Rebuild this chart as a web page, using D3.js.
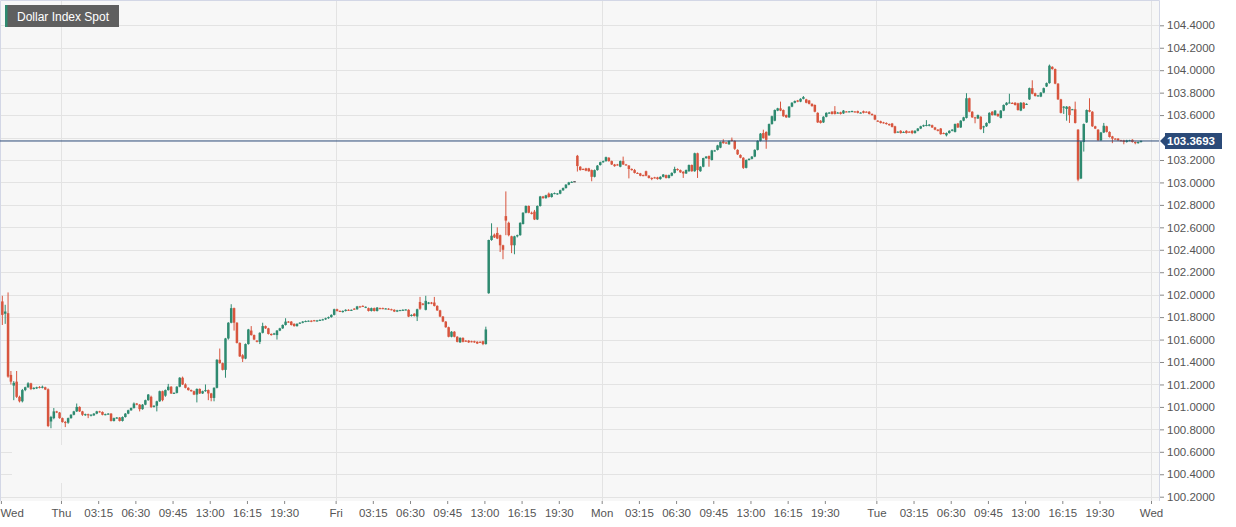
<!DOCTYPE html>
<html><head><meta charset="utf-8">
<script src="https://cdn.jsdelivr.net/npm/d3@7"></script>
<style>
body{margin:0;background:#fff;}
svg{display:block;font-family:"Liberation Sans",Arial,Helvetica,sans-serif;}
</style>
</head><body>
<svg id="chart" width="1236" height="527"></svg>
<script>
// [open, high, low, close] per 15-minute candle
const wedCandles = [
[101.94,101.99,101.73,101.82],[101.83,101.91,101.74,101.85],[101.835,102.02,101.26,101.27],[101.285,101.32,101.20,101.225],
[101.19,101.23,101.06,101.215],[101.225,101.32,101.08,101.09],[101.09,101.10,101.04,101.05],[101.05,101.16,101.04,101.15],
[101.15,101.18,101.14,101.175],[101.175,101.22,101.17,101.21],[101.21,101.215,101.15,101.16],[101.16,101.175,101.155,101.17],
[101.165,101.18,101.16,101.175],[101.178,101.185,101.165,101.17],[101.17,101.19,101.165,101.18],[101.175,101.18,101.15,101.155],
[101.157,101.165,100.82,100.83],[100.87,100.92,100.81,100.91],[100.90,100.99,100.89,100.96],[100.96,100.965,100.945,100.95],
[100.95,100.955,100.895,100.90]
];
const thuCandles = [
[100.90,100.905,100.86,100.865],[100.865,100.875,100.82,100.86],[100.86,100.905,100.85,100.90],[100.90,100.935,100.895,100.93],
[100.93,100.965,100.925,100.96],[100.96,101.03,100.955,101.00],[101.00,101.005,100.955,100.96],[100.96,100.965,100.92,100.93],
[100.93,100.94,100.92,100.935],[100.935,100.94,100.90,100.925],[100.925,100.935,100.915,100.93],[100.925,100.945,100.92,100.94],
[100.94,100.965,100.935,100.96],[100.96,100.965,100.95,100.955],[100.955,100.96,100.925,100.93],[100.93,100.94,100.925,100.935],
[100.935,100.945,100.93,100.94],[100.94,100.945,100.87,100.875],[100.875,100.905,100.87,100.90],[100.90,100.91,100.895,100.905],
[100.905,100.91,100.87,100.875],[100.875,100.915,100.87,100.91],[100.91,100.945,100.905,100.94],[100.94,100.975,100.935,100.97],
[100.97,100.995,100.965,100.99],[100.99,101.04,100.985,101.03],[101.03,101.035,101.015,101.02],[101.02,101.025,100.96,100.98],
[100.98,101.025,100.975,101.02],[101.02,101.065,101.015,101.06],[101.06,101.115,101.055,101.11],[101.09,101.10,100.99,101.00],
[101.00,101.015,100.995,101.01],[101.01,101.055,100.96,101.05],[101.05,101.145,101.045,101.14],[101.14,101.145,101.05,101.06],
[101.10,101.155,101.09,101.15],[101.15,101.205,101.145,101.18],[101.18,101.185,101.115,101.12],[101.12,101.13,101.115,101.125],
[101.125,101.185,101.12,101.18],[101.18,101.265,101.175,101.26],[101.26,101.27,101.195,101.20],[101.20,101.21,101.165,101.17],
[101.17,101.175,101.145,101.15],[101.15,101.155,101.135,101.14],[101.14,101.145,101.105,101.11],[101.11,101.165,101.04,101.16],
[101.16,101.165,101.115,101.12],[101.12,101.145,101.115,101.14],[101.14,101.20,101.135,101.15],[101.15,101.155,101.06,101.12],
[101.12,101.125,101.05,101.08],[101.08,101.175,101.05,101.17],[101.17,101.425,101.165,101.42],[101.42,101.52,101.385,101.39],
[101.39,101.395,101.325,101.33],[101.33,101.615,101.26,101.61],[101.61,101.755,101.60,101.75],[101.75,101.915,101.745,101.88],
[101.88,101.885,101.68,101.75],[101.75,101.755,101.565,101.57],[101.57,101.575,101.445,101.45],[101.46,101.47,101.40,101.43],
[101.43,101.565,101.425,101.56],[101.56,101.695,101.555,101.69],[101.68,101.72,101.635,101.64],[101.64,101.645,101.595,101.60],
[101.59,101.595,101.575,101.58],[101.58,101.665,101.56,101.66],[101.66,101.75,101.655,101.72],[101.72,101.725,101.695,101.70],
[101.70,101.705,101.645,101.65],[101.65,101.655,101.635,101.64],[101.645,101.66,101.64,101.655],[101.64,101.685,101.60,101.68],
[101.68,101.705,101.675,101.70],[101.70,101.735,101.695,101.73],[101.73,101.79,101.725,101.76],[101.76,101.765,101.75,101.755],
[101.76,101.765,101.725,101.73],[101.74,101.745,101.715,101.72],[101.72,101.745,101.715,101.74],[101.745,101.755,101.74,101.75],
[101.75,101.765,101.745,101.76],[101.76,101.77,101.755,101.765],[101.765,101.77,101.76,101.768],[101.768,101.772,101.755,101.76],
[101.772,101.775,101.762,101.765],[101.765,101.775,101.76,101.77],[101.77,101.78,101.765,101.775],[101.775,101.785,101.77,101.78],
[101.78,101.795,101.775,101.79],[101.79,101.805,101.785,101.80],[101.80,101.825,101.795,101.82],[101.82,101.875,101.815,101.87]
];
const friCandles = [
[101.87,101.875,101.85,101.855],[101.855,101.86,101.845,101.85],[101.845,101.86,101.84,101.855],[101.855,101.87,101.85,101.865],
[101.865,101.87,101.855,101.86],[101.86,101.868,101.855,101.865],[101.875,101.88,101.865,101.87],[101.87,101.90,101.865,101.895],
[101.895,101.90,101.885,101.89],[101.90,101.905,101.89,101.895],[101.89,101.895,101.88,101.892],[101.88,101.885,101.85,101.855],
[101.855,101.885,101.85,101.88],[101.88,101.885,101.85,101.855],[101.855,101.89,101.85,101.885],[101.88,101.885,101.87,101.875],
[101.88,101.885,101.87,101.875],[101.875,101.88,101.87,101.877],[101.875,101.88,101.865,101.87],[101.87,101.875,101.86,101.865],
[101.865,101.87,101.845,101.85],[101.85,101.865,101.845,101.86],[101.86,101.865,101.855,101.862],[101.862,101.87,101.855,101.865],
[101.865,101.87,101.86,101.868],[101.865,101.87,101.80,101.805],[101.81,101.825,101.805,101.82],[101.83,101.835,101.805,101.81],
[101.805,101.875,101.765,101.87],[101.935,101.98,101.865,101.875],[101.92,101.925,101.905,101.91],[101.865,101.99,101.86,101.945],
[101.92,101.935,101.915,101.93],[101.93,101.935,101.915,101.92],[101.93,101.98,101.895,101.90],[101.90,101.905,101.855,101.86],
[101.86,101.865,101.80,101.805],[101.805,101.81,101.755,101.76],[101.76,101.765,101.705,101.71],[101.71,101.715,101.62,101.625],
[101.625,101.675,101.62,101.67],[101.67,101.675,101.62,101.625],[101.625,101.63,101.575,101.58],[101.575,101.62,101.57,101.615],
[101.615,101.62,101.575,101.58],[101.59,101.595,101.58,101.585],[101.59,101.595,101.57,101.575],[101.585,101.59,101.575,101.58],
[101.585,101.59,101.57,101.575],[101.58,101.585,101.56,101.565],[101.58,101.585,101.57,101.575],[101.585,101.59,101.55,101.56],
[101.56,101.715,101.555,101.69],[102.013,102.49,102.008,102.487],[102.487,102.636,102.48,102.525],[102.535,102.545,102.505,102.51],
[102.55,102.60,102.495,102.50],[102.53,102.535,102.38,102.44],[102.44,102.445,102.316,102.40],[102.70,102.92,102.53,102.66],
[102.64,102.65,102.52,102.53],[102.52,102.525,102.37,102.44],[102.44,102.525,102.36,102.52],[102.52,102.535,102.51,102.53],
[102.53,102.645,102.525,102.64],[102.63,102.735,102.625,102.73],[102.73,102.795,102.725,102.79],[102.79,102.795,102.725,102.73],
[102.73,102.74,102.715,102.72],[102.74,102.755,102.665,102.67],[102.67,102.795,102.665,102.79],[102.79,102.88,102.785,102.875],
[102.875,102.88,102.855,102.86],[102.86,102.89,102.855,102.885],[102.90,102.91,102.865,102.87],[102.87,102.905,102.865,102.90],
[102.90,102.91,102.895,102.905],[102.898,102.905,102.89,102.902],[102.90,102.935,102.895,102.93],[102.93,102.955,102.925,102.95],
[102.95,102.985,102.945,102.98],[102.98,103.005,102.975,103.00],[103.00,103.01,102.995,103.005],[103.01,103.01,103.01,103.01],
[103.237,103.245,103.097,103.146],[103.14,103.145,103.105,103.11],[103.12,103.125,103.11,103.115],[103.125,103.13,103.10,103.105],
[103.125,103.13,103.095,103.10],[103.11,103.115,103.01,103.05],[103.05,103.115,103.045,103.11],[103.11,103.155,103.105,103.15],
[103.155,103.185,103.15,103.18]
];
const monCandles = [
[103.18,103.195,103.175,103.19],[103.19,103.23,103.185,103.225],[103.22,103.225,103.185,103.19],[103.19,103.195,103.155,103.16],
[103.16,103.165,103.14,103.145],[103.16,103.165,103.15,103.155],[103.14,103.195,103.135,103.19],[103.19,103.23,103.155,103.16],
[103.16,103.165,103.15,103.155],[103.15,103.155,103.036,103.12],[103.12,103.125,103.105,103.11],[103.11,103.12,103.08,103.085],
[103.085,103.09,103.075,103.08],[103.08,103.085,103.055,103.06],[103.065,103.07,103.055,103.06],[103.10,103.105,103.055,103.06],
[103.06,103.065,103.035,103.04],[103.04,103.045,103.02,103.038],[103.045,103.05,103.035,103.04],[103.045,103.05,103.025,103.03],
[103.03,103.055,103.025,103.05],[103.05,103.075,103.045,103.07],[103.065,103.07,103.035,103.04],[103.04,103.07,103.035,103.065],
[103.06,103.09,103.055,103.085],[103.085,103.14,103.08,103.12],[103.12,103.125,103.105,103.11],[103.11,103.115,103.085,103.09],
[103.095,103.10,103.04,103.08],[103.08,103.115,103.075,103.11],[103.10,103.16,103.095,103.155],[103.155,103.16,103.095,103.10],
[103.10,103.265,103.095,103.26],[103.26,103.265,103.04,103.11],[103.10,103.145,103.095,103.14],[103.14,103.22,103.135,103.217],
[103.217,103.235,103.21,103.23],[103.235,103.24,103.14,103.21],[103.20,103.29,103.195,103.285],[103.28,103.29,103.275,103.285],
[103.29,103.335,103.285,103.33],[103.31,103.365,103.305,103.36],[103.365,103.385,103.345,103.35],[103.355,103.36,103.345,103.35],
[103.34,103.375,103.335,103.37],[103.38,103.40,103.365,103.37],[103.37,103.375,103.29,103.30],[103.29,103.295,103.245,103.25],
[103.245,103.25,103.215,103.22],[103.22,103.225,103.12,103.13],[103.13,103.205,103.125,103.20],[103.20,103.215,103.195,103.21],
[103.21,103.235,103.205,103.23],[103.23,103.295,103.225,103.29],[103.29,103.375,103.285,103.37],[103.37,103.44,103.365,103.435],
[103.44,103.47,103.39,103.395],[103.45,103.455,103.30,103.38],[103.42,103.525,103.415,103.52],[103.52,103.595,103.515,103.59],
[103.55,103.65,103.545,103.645],[103.64,103.665,103.635,103.66],[103.66,103.72,103.635,103.64],[103.645,103.65,103.585,103.59],
[103.60,103.605,103.575,103.58],[103.58,103.68,103.575,103.675],[103.675,103.715,103.67,103.71],[103.71,103.73,103.705,103.725],
[103.73,103.735,103.715,103.72],[103.72,103.75,103.715,103.745],[103.745,103.77,103.74,103.76],[103.74,103.745,103.705,103.71],
[103.73,103.735,103.695,103.70],[103.70,103.705,103.675,103.68],[103.69,103.695,103.625,103.63],[103.62,103.625,103.53,103.535],
[103.55,103.555,103.525,103.53],[103.535,103.59,103.53,103.585],[103.585,103.625,103.58,103.62],[103.62,103.628,103.612,103.622],
[103.63,103.635,103.605,103.61],[103.635,103.68,103.605,103.61],[103.62,103.628,103.615,103.622],[103.625,103.63,103.605,103.61],
[103.615,103.645,103.61,103.64],[103.632,103.636,103.626,103.63],[103.63,103.636,103.625,103.633],[103.628,103.64,103.625,103.636],
[103.632,103.636,103.624,103.63],[103.635,103.64,103.615,103.62],[103.62,103.626,103.615,103.622],[103.635,103.64,103.615,103.62],
[103.63,103.634,103.624,103.628],[103.63,103.635,103.605,103.61],[103.61,103.615,103.595,103.60],[103.60,103.605,103.555,103.56]
];
const tueCandles = [
[103.55,103.555,103.54,103.545],[103.545,103.55,103.525,103.53],[103.535,103.54,103.525,103.532],[103.53,103.535,103.515,103.52],
[103.52,103.525,103.505,103.51],[103.525,103.53,103.49,103.495],[103.50,103.505,103.435,103.44],[103.45,103.455,103.445,103.452],
[103.46,103.465,103.435,103.44],[103.448,103.455,103.442,103.45],[103.46,103.465,103.435,103.44],[103.452,103.456,103.445,103.448],
[103.46,103.465,103.43,103.44],[103.44,103.465,103.435,103.46],[103.46,103.485,103.455,103.48],[103.48,103.505,103.475,103.50],
[103.50,103.515,103.495,103.51],[103.508,103.555,103.50,103.512],[103.505,103.52,103.50,103.515],[103.51,103.515,103.485,103.49],
[103.49,103.495,103.465,103.47],[103.47,103.475,103.455,103.46],[103.48,103.485,103.425,103.43],[103.44,103.445,103.43,103.438],
[103.42,103.445,103.41,103.44],[103.44,103.465,103.435,103.46],[103.46,103.475,103.455,103.47],[103.45,103.525,103.445,103.52],
[103.525,103.53,103.485,103.49],[103.49,103.555,103.485,103.55],[103.55,103.585,103.545,103.58],[103.575,103.795,103.57,103.75],
[103.75,103.755,103.625,103.63],[103.63,103.635,103.575,103.58],[103.58,103.585,103.527,103.575],[103.57,103.605,103.565,103.60],
[103.585,103.59,103.47,103.475],[103.49,103.505,103.44,103.50],[103.50,103.535,103.495,103.53],[103.53,103.625,103.525,103.62],
[103.63,103.635,103.595,103.60],[103.60,103.645,103.595,103.64],[103.61,103.615,103.585,103.59],[103.575,103.645,103.57,103.64],
[103.64,103.695,103.635,103.69],[103.69,103.715,103.685,103.71],[103.71,103.79,103.705,103.712],[103.708,103.715,103.70,103.704],
[103.71,103.715,103.685,103.69],[103.705,103.71,103.64,103.645],[103.64,103.715,103.635,103.71],[103.71,103.715,103.655,103.66],
[103.695,103.705,103.69,103.70],[103.74,103.845,103.735,103.84],[103.84,103.91,103.785,103.79],[103.795,103.80,103.765,103.77],
[103.77,103.78,103.765,103.775],[103.765,103.805,103.76,103.80],[103.80,103.845,103.795,103.84],[103.855,103.89,103.85,103.885],
[103.885,104.05,103.88,104.04],[104.03,104.035,104.005,104.01],[104.01,104.015,103.875,103.88],[103.88,103.885,103.735,103.74],
[103.74,103.745,103.615,103.62],[103.67,103.68,103.61,103.675],[103.655,103.68,103.55,103.675],[103.675,103.68,103.53,103.60],
[103.65,103.655,103.645,103.652],[103.652,103.72,103.525,103.53],[103.47,103.475,103.01,103.025],[103.035,103.37,103.03,103.364],
[103.36,103.525,103.275,103.52],[103.535,103.65,103.53,103.645],[103.645,103.75,103.625,103.63],[103.63,103.635,103.495,103.50],
[103.50,103.505,103.475,103.48],[103.47,103.475,103.37,103.375],[103.375,103.45,103.37,103.445],[103.445,103.53,103.44,103.505],
[103.50,103.505,103.445,103.45],[103.45,103.455,103.40,103.405],[103.41,103.415,103.35,103.39],[103.39,103.395,103.383,103.388],
[103.39,103.395,103.37,103.375],[103.376,103.38,103.365,103.372],[103.375,103.38,103.34,103.36],[103.36,103.38,103.355,103.375],
[103.373,103.38,103.368,103.376],[103.38,103.385,103.355,103.36],[103.36,103.365,103.34,103.35],[103.35,103.365,103.345,103.36],
[103.36,103.375,103.355,103.3693]
];

const dayLabels = ["Wed","Thu","Fri","Mon","Tue","Wed"];
const dayTickIndex = [-0.5, 20.5, 116.5, 209.5, 305.5, 401.5];
const hourLabels = ["03:15","06:30","09:45","13:00","16:15","19:30"];
const hourOffsets = [13, 26, 39, 52, 65, 78];
const priceTicks = [100.2,100.4,100.6,100.8,101.0,101.2,101.4,101.6,101.8,102.0,102.2,102.4,102.6,102.8,103.0,103.2,103.4,103.6,103.8,104.0,104.2,104.4];
const lastPrice = 103.3693;
const titleText = "Dollar Index Spot";

const candles = [].concat(wedCandles, thuCandles, friCandles, monCandles, tueCandles)
  .map((c, i) => ({i, o: c[0], h: c[1], l: c[2], c: c[3]}));

const plotRight = 1159, plotBottom = 501;
const svg = d3.select("#chart");

const x = d3.scaleLinear().domain([-0.5, 401.5]).range([0.9, 1151]);
const y = d3.scaleLinear().domain([100.2, 104.4]).range([496.7, 25.3]);
const yl = y(lastPrice);

// plot background
svg.append("rect").attr("x", 0).attr("y", 0).attr("width", plotRight).attr("height", plotBottom)
  .attr("fill", "#f7f7f7");

// horizontal grid
svg.append("g").selectAll("line").data(priceTicks).join("line")
  .attr("x1", 0).attr("x2", plotRight)
  .attr("y1", d => Math.round(y(d)) + 0.5).attr("y2", d => Math.round(y(d)) + 0.5)
  .attr("stroke", "#e3e3e3").attr("stroke-width", 1);

// vertical day grid
svg.append("g").selectAll("line").data(dayTickIndex.slice(1)).join("line")
  .attr("x1", d => Math.round(x(d)) + 0.5).attr("x2", d => Math.round(x(d)) + 0.5)
  .attr("y1", 0).attr("y2", plotBottom)
  .attr("stroke", "#e3e3e3").attr("stroke-width", 1);

// masked area bottom-left
svg.append("rect").attr("x", 12).attr("y", 445).attr("width", 118).attr("height", 38).attr("fill", "#f7f7f7");

// plot border
svg.append("path")
  .attr("d", `M0.5,${plotBottom} L0.5,0.5 L${plotRight + 0.5},0.5 L${plotRight + 0.5},${plotBottom}`)
  .attr("fill", "none").attr("stroke", "#d3d7e6").attr("stroke-width", 1);

// candles
const green = "#2e8a70", red = "#d8553e";
const colorOf = d => d.c > d.o ? green : (d.c < d.o ? red : "#222");
const bw = 2.5;
const cg = svg.append("g");
cg.selectAll("line").data(candles).join("line")
  .attr("x1", d => x(d.i)).attr("x2", d => x(d.i))
  .attr("y1", d => y(d.h)).attr("y2", d => y(d.l))
  .attr("stroke", colorOf).attr("stroke-width", 1);
cg.selectAll("rect").data(candles).join("rect")
  .attr("x", d => x(d.i) - bw / 2)
  .attr("width", bw)
  .attr("y", d => y(Math.max(d.o, d.c)))
  .attr("height", d => Math.max(1, Math.abs(y(d.o) - y(d.c))))
  .attr("fill", colorOf);

// last price line
svg.append("line").attr("x1", 0).attr("x2", plotRight).attr("y1", yl).attr("y2", yl)
  .attr("stroke", "#2b4a78").attr("stroke-width", 1);

// right axis (ticks hidden behind the last-price label are not labelled)
const yAxis = d3.axisRight(y).tickValues(priceTicks).tickFormat(d3.format(".4f")).tickSize(4).tickPadding(3);
const ya = svg.append("g").attr("transform", `translate(${plotRight + 1},0)`).call(yAxis);
ya.select(".domain").remove();
ya.selectAll(".tick line").attr("stroke", "#888");
ya.selectAll(".tick text").attr("fill", "#555").attr("font-size", 11.5)
  .attr("font-family", "'Liberation Sans', Arial, sans-serif");
ya.selectAll(".tick").filter(d => Math.abs(y(d) - yl) < 12).remove();

// last price label
const lg = svg.append("g");
lg.append("path")
  .attr("d", `M${plotRight + 1},${yl} L${plotRight + 6},${yl - 5} L${plotRight + 6},${yl - 8} L1222,${yl - 8} L1222,${yl + 8} L${plotRight + 6},${yl + 8} L${plotRight + 6},${yl + 5} Z`)
  .attr("fill", "#2b4a78");
lg.append("text").attr("x", 1167).attr("y", yl + 4.2).attr("fill", "#fff")
  .attr("font-size", 11.5).attr("font-weight", "bold").text(d3.format(".4f")(lastPrice));

// bottom axis
const tickVals = [], tickLabs = [];
dayTickIndex.forEach((d, k) => {
  tickVals.push(d); tickLabs.push(dayLabels[k]);
  if (k >= 1 && k <= 4) hourOffsets.forEach((o, j) => { tickVals.push(d + o); tickLabs.push(hourLabels[j]); });
});
const xAxis = d3.axisBottom(x).tickValues(tickVals).tickFormat((d, i) => tickLabs[i]).tickSize(3).tickPadding(5);
const xa = svg.append("g").attr("transform", `translate(0,${plotBottom})`).call(xAxis);
xa.select(".domain").remove();
xa.selectAll(".tick line").attr("stroke", "#888");
xa.selectAll(".tick text").attr("fill", "#555").attr("font-size", 11.5)
  .attr("font-family", "'Liberation Sans', Arial, sans-serif");
xa.select(".tick text").attr("text-anchor", "start").attr("x", -1);

// title badge
const tg = svg.append("g");
tg.append("rect").attr("x", 5).attr("y", 5).attr("width", 114).attr("height", 22).attr("fill", "#5f5f5f");
tg.append("rect").attr("x", 5).attr("y", 5).attr("width", 2.5).attr("height", 22).attr("fill", "#2e8a70");
tg.append("text").attr("x", 17).attr("y", 20.5).attr("fill", "#fff").attr("font-size", 12).text(titleText);
</script>
</body></html>
